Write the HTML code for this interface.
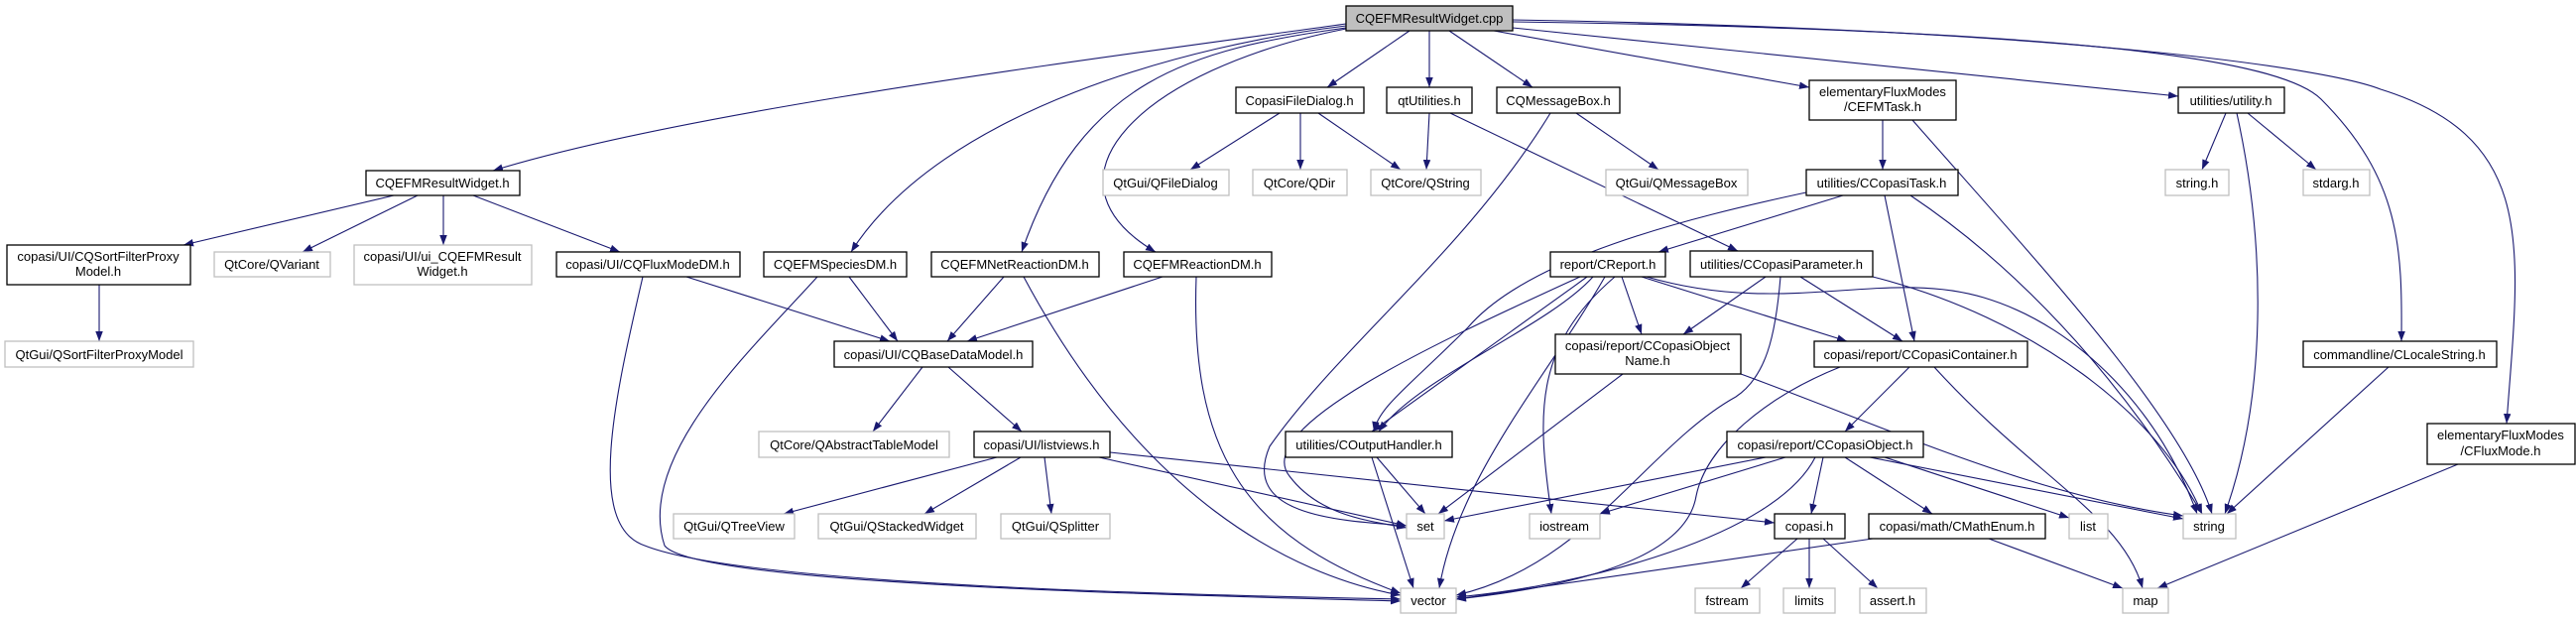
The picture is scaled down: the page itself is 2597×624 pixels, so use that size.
<!DOCTYPE html>
<html><head><meta charset="utf-8"><style>
html,body{margin:0;padding:0;background:#fff;}
svg{display:block;}
text{font-family:"Liberation Sans",sans-serif;font-size:13px;fill:#000;}
.n{fill:#fff;stroke:#000;stroke-width:1.3;}
.g{fill:#fff;stroke:#bfbfbf;stroke-width:1.3;}
.e{fill:none;stroke:#191970;stroke-width:1.1;marker-end:url(#a);}
</style></head><body>
<svg width="2597" height="624" viewBox="0 0 2597 624" xmlns="http://www.w3.org/2000/svg">
<defs><marker id="a" markerUnits="userSpaceOnUse" markerWidth="11" markerHeight="8" refX="10" refY="3.75" orient="auto"><path d="M0,0 L10,3.75 L0,7.5 z" fill="#191970"/></marker></defs>
<g>
<path class="e" d="M1357,24 C1100,60 700,110 497,172"/>
<path class="e" d="M1357,26 C1200,45 950,110 858,254"/>
<path class="e" d="M1357,28 C1200,50 1090,80 1030,254"/>
<path class="e" d="M1357,29 C1150,70 1040,180 1165,254"/>
<path class="e" d="M1421,31 L1338,88"/>
<path class="e" d="M1441,31 L1441,88"/>
<path class="e" d="M1461,31 L1545,88"/>
<path class="e" d="M1506,31 L1824,88"/>
<path class="e" d="M1525,28 L2196,97"/>
<path class="e" d="M1525,22 C2100,30 2300,60 2340,100 C2420,180 2422,250 2421,344"/>
<path class="e" d="M1525,20 C2100,30 2350,70 2400,90 C2560,140 2540,250 2527,427"/>
<path class="e" d="M397,197 L185,247"/>
<path class="e" d="M421,197 L305,254"/>
<path class="e" d="M447,197 L447,247"/>
<path class="e" d="M477,197 L625,254"/>
<path class="e" d="M100,287 L100,344"/>
<path class="e" d="M692,279 L897,344"/>
<path class="e" d="M648,279 C620,400 590,530 650,550 C750,590 1200,600 1412,604"/>
<path class="e" d="M824,279 C760,350 640,460 670,550 C700,590 1200,600 1412,606"/>
<path class="e" d="M856,279 L905,344"/>
<path class="e" d="M1012,279 L955,344"/>
<path class="e" d="M1032,279 C1150,500 1300,580 1412,600"/>
<path class="e" d="M1172,279 L975,344"/>
<path class="e" d="M1206,279 C1200,450 1250,540 1412,598"/>
<path class="e" d="M930,370 L880,435"/>
<path class="e" d="M956,370 L1030,435"/>
<path class="e" d="M1005,461 L790,518"/>
<path class="e" d="M1029,461 L932,518"/>
<path class="e" d="M1053,461 L1060,518"/>
<path class="e" d="M1108,461 L1418,530"/>
<path class="e" d="M1119,456 L1789,527"/>
<path class="e" d="M1563,114 C1480,250 1350,350 1280,450 C1250,520 1350,525 1418,530"/>
<path class="e" d="M1441,114 L1438,171"/>
<path class="e" d="M1462,114 L1752,253"/>
<path class="e" d="M1290,114 L1200,171"/>
<path class="e" d="M1311,114 L1311,171"/>
<path class="e" d="M1329,114 L1412,171"/>
<path class="e" d="M1589,114 L1672,171"/>
<path class="e" d="M1898,121 L1898,171"/>
<path class="e" d="M1928,121 C2050,260 2200,420 2230,518"/>
<path class="e" d="M2244,114 L2220,171"/>
<path class="e" d="M2266,114 L2335,171"/>
<path class="e" d="M2255,114 C2285,250 2285,400 2243,518"/>
<path class="e" d="M2408,370 L2245,518"/>
<path class="e" d="M2478,468 L2175,593"/>
<path class="e" d="M1858,197 L1672,254"/>
<path class="e" d="M1821,194 C1700,220 1540,260 1480,330 C1420,390 1390,410 1385,435"/>
<path class="e" d="M1900,197 L1930,344"/>
<path class="e" d="M1926,197 C2050,280 2150,400 2220,518"/>
<path class="e" d="M1600,279 C1530,330 1460,380 1383,435"/>
<path class="e" d="M1606,279 C1560,330 1430,380 1390,435"/>
<path class="e" d="M1593,279 C1460,340 1260,430 1300,480 C1330,520 1380,525 1418,532"/>
<path class="e" d="M1618,279 C1560,380 1470,480 1451,593"/>
<path class="e" d="M1628,279 C1545,350 1550,420 1564,518"/>
<path class="e" d="M1635,279 L1655,337"/>
<path class="e" d="M1655,279 L1862,344"/>
<path class="e" d="M1660,279 C1800,320 1900,270 2000,300 C2100,330 2180,420 2215,518"/>
<path class="e" d="M1780,279 L1697,337"/>
<path class="e" d="M1815,279 L1918,344"/>
<path class="e" d="M1795,279 C1790,340 1780,380 1750,400 C1660,450 1600,570 1468,600"/>
<path class="e" d="M1888,279 C2050,320 2180,420 2220,518"/>
<path class="e" d="M1636,377 L1450,518"/>
<path class="e" d="M1755,377 C1900,430 2050,500 2201,520"/>
<path class="e" d="M1925,370 L1860,435"/>
<path class="e" d="M1855,370 C1780,400 1720,450 1710,500 C1700,560 1600,590 1468,604"/>
<path class="e" d="M1950,370 C2050,480 2140,520 2160,593"/>
<path class="e" d="M1780,461 L1456,525"/>
<path class="e" d="M1800,461 L1613,518"/>
<path class="e" d="M1830,461 C1790,540 1600,590 1468,602"/>
<path class="e" d="M1838,461 L1826,518"/>
<path class="e" d="M1860,461 L1948,518"/>
<path class="e" d="M1900,461 L2086,522"/>
<path class="e" d="M1885,461 L2201,523"/>
<path class="e" d="M1812,543 L1755,593"/>
<path class="e" d="M1824,543 L1824,593"/>
<path class="e" d="M1838,543 L1893,593"/>
<path class="e" d="M1888,543 L1468,604"/>
<path class="e" d="M2005,543 L2140,593"/>
<path class="e" d="M1388,461 L1437,518"/>
<path class="e" d="M1383,461 L1425,593"/>
</g>
<g text-anchor="middle">
<rect x="1357" y="6" width="168" height="25" fill="#bfbfbf" stroke="#000" stroke-width="1.3"/><text x="1441" y="23">CQEFMResultWidget.cpp</text>
<rect class="n" x="369" y="172" width="155" height="25"/><text x="446" y="189">CQEFMResultWidget.h</text>
<rect class="n" x="7" y="247" width="185" height="40"/><text x="99" y="263">copasi/UI/CQSortFilterProxy</text><text x="99" y="278">Model.h</text>
<rect class="g" x="216" y="254" width="117" height="25"/><text x="274" y="271">QtCore/QVariant</text>
<rect class="g" x="357" y="247" width="179" height="40"/><text x="446" y="263">copasi/UI/ui_CQEFMResult</text><text x="446" y="278">Widget.h</text>
<rect class="n" x="561" y="254" width="185" height="25"/><text x="653" y="271">copasi/UI/CQFluxModeDM.h</text>
<rect class="n" x="770" y="254" width="144" height="25"/><text x="842" y="271">CQEFMSpeciesDM.h</text>
<rect class="n" x="939" y="254" width="169" height="25"/><text x="1023" y="271">CQEFMNetReactionDM.h</text>
<rect class="n" x="1133" y="254" width="149" height="25"/><text x="1207" y="271">CQEFMReactionDM.h</text>
<rect class="n" x="1563" y="254" width="116" height="25"/><text x="1621" y="271">report/CReport.h</text>
<rect class="n" x="1704" y="253" width="184" height="26"/><text x="1796" y="271">utilities/CCopasiParameter.h</text>
<rect class="n" x="1246" y="88" width="129" height="26"/><text x="1310" y="106">CopasiFileDialog.h</text>
<rect class="n" x="1398" y="88" width="86" height="26"/><text x="1441" y="106">qtUtilities.h</text>
<rect class="n" x="1509" y="88" width="124" height="26"/><text x="1571" y="106">CQMessageBox.h</text>
<rect class="n" x="1824" y="81" width="148" height="40"/><text x="1898" y="97">elementaryFluxModes</text><text x="1898" y="112">/CEFMTask.h</text>
<rect class="n" x="2196" y="88" width="107" height="26"/><text x="2249" y="106">utilities/utility.h</text>
<rect class="g" x="1112" y="171" width="127" height="26"/><text x="1175" y="189">QtGui/QFileDialog</text>
<rect class="g" x="1263" y="171" width="95" height="26"/><text x="1310" y="189">QtCore/QDir</text>
<rect class="g" x="1382" y="171" width="111" height="26"/><text x="1437" y="189">QtCore/QString</text>
<rect class="g" x="1619" y="171" width="143" height="26"/><text x="1690" y="189">QtGui/QMessageBox</text>
<rect class="n" x="1821" y="171" width="153" height="26"/><text x="1897" y="189">utilities/CCopasiTask.h</text>
<rect class="g" x="2183" y="171" width="64" height="26"/><text x="2215" y="189">string.h</text>
<rect class="g" x="2322" y="171" width="67" height="26"/><text x="2355" y="189">stdarg.h</text>
<rect class="g" x="5" y="344" width="190" height="26"/><text x="100" y="362">QtGui/QSortFilterProxyModel</text>
<rect class="n" x="841" y="344" width="200" height="26"/><text x="941" y="362">copasi/UI/CQBaseDataModel.h</text>
<rect class="n" x="1568" y="337" width="187" height="40"/><text x="1661" y="353">copasi/report/CCopasiObject</text><text x="1661" y="368">Name.h</text>
<rect class="n" x="1829" y="344" width="215" height="26"/><text x="1936" y="362">copasi/report/CCopasiContainer.h</text>
<rect class="n" x="2322" y="344" width="195" height="26"/><text x="2419" y="362">commandline/CLocaleString.h</text>
<rect class="g" x="765" y="435" width="192" height="26"/><text x="861" y="453">QtCore/QAbstractTableModel</text>
<rect class="n" x="982" y="435" width="137" height="26"/><text x="1050" y="453">copasi/UI/listviews.h</text>
<rect class="n" x="1296" y="435" width="168" height="26"/><text x="1380" y="453">utilities/COutputHandler.h</text>
<rect class="n" x="1741" y="435" width="198" height="26"/><text x="1840" y="453">copasi/report/CCopasiObject.h</text>
<rect class="n" x="2447" y="427" width="149" height="41"/><text x="2521" y="443">elementaryFluxModes</text><text x="2521" y="459">/CFluxMode.h</text>
<rect class="g" x="679" y="518" width="122" height="25"/><text x="740" y="535">QtGui/QTreeView</text>
<rect class="g" x="825" y="518" width="159" height="25"/><text x="904" y="535">QtGui/QStackedWidget</text>
<rect class="g" x="1009" y="518" width="110" height="25"/><text x="1064" y="535">QtGui/QSplitter</text>
<rect class="g" x="1418" y="518" width="38" height="25"/><text x="1437" y="535">set</text>
<rect class="g" x="1542" y="518" width="71" height="25"/><text x="1577" y="535">iostream</text>
<rect class="n" x="1789" y="518" width="71" height="25"/><text x="1824" y="535">copasi.h</text>
<rect class="n" x="1884" y="518" width="178" height="25"/><text x="1973" y="535">copasi/math/CMathEnum.h</text>
<rect class="g" x="2086" y="518" width="39" height="25"/><text x="2105" y="535">list</text>
<rect class="g" x="2201" y="518" width="53" height="25"/><text x="2227" y="535">string</text>
<rect class="g" x="1412" y="593" width="56" height="25"/><text x="1440" y="610">vector</text>
<rect class="g" x="1709" y="593" width="65" height="25"/><text x="1741" y="610">fstream</text>
<rect class="g" x="1798" y="593" width="52" height="25"/><text x="1824" y="610">limits</text>
<rect class="g" x="1875" y="593" width="67" height="25"/><text x="1908" y="610">assert.h</text>
<rect class="g" x="2140" y="593" width="46" height="25"/><text x="2163" y="610">map</text>
</g>
</svg>
</body></html>
